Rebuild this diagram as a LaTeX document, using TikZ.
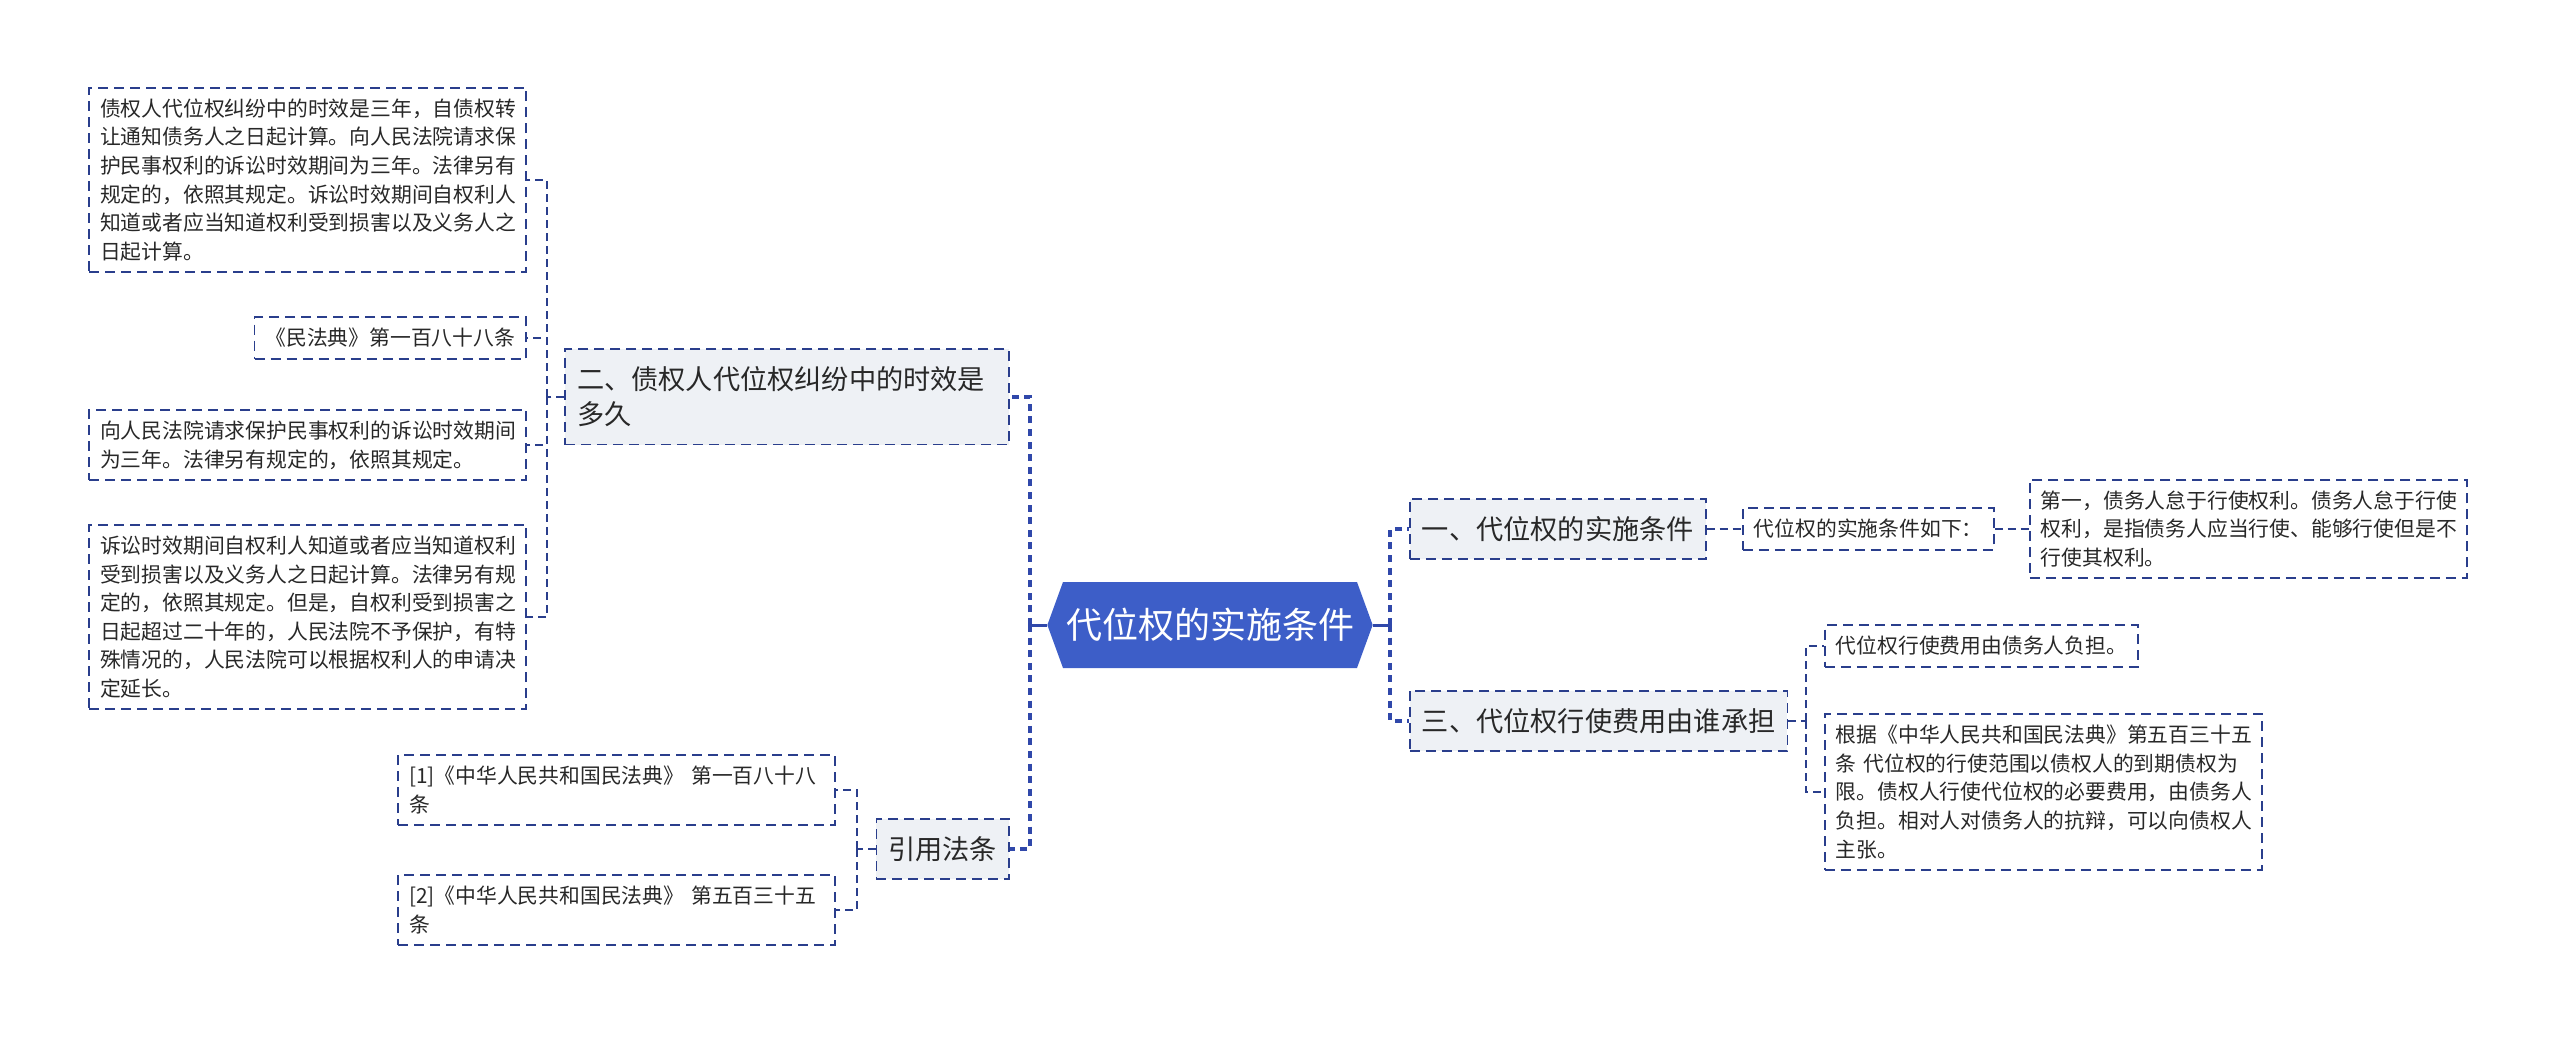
\documentclass[tikz,border=0pt]{standalone}
\usepackage{fontspec}
\setmainfont{Noto Sans CJK SC}
\usepackage{tikz}
\usetikzlibrary{shapes.symbols}
\definecolor{rootblue}{RGB}{61,94,200}
\definecolor{linkblue}{RGB}{42,62,140}
\definecolor{busblue}{RGB}{48,72,170}
\definecolor{topicgray}{RGB}{238,241,245}
\definecolor{textgray}{RGB}{40,40,40}

\begin{document}
\begin{tikzpicture}[x=0.5pt,y=-0.5pt,
    leaf/.style={draw=linkblue,line width=0.85pt,dash pattern=on 5pt off 3pt,fill=white,
      text=textgray,font=\fontsize{10.4pt}{14.3pt}\selectfont,inner xsep=5.5pt,inner ysep=5.5pt,align=left},
    wideleaf/.style={leaf,text width=207.5pt},
    topic/.style={leaf,fill=topicgray,font=\fontsize{13.6pt}{17.5pt}\selectfont,inner xsep=6pt,inner ysep=8.75pt},
    rootbox/.style={signal,signal to=west and east,signal pointer angle=140,fill=rootblue,
      text=white,font=\fontsize{18pt}{22pt}\selectfont,minimum height=43pt,inner xsep=1.5pt},
    link/.style={draw=linkblue,line width=0.85pt,dash pattern=on 4pt off 2.5pt},
    mainlink/.style={draw=busblue,line width=1.6pt,dash pattern=on 3.5pt off 2.8pt},
    rootlink/.style={draw=busblue,line width=1.5pt}]
    \useasboundingbox (0,0) rectangle (2560,1037);

    % Root
    \node[rootbox] (root) at (1210,625) {代位权的实施条件};

    % Left branch: 时效
    \node[topic,anchor=east,text width=210pt] (limit) at (1010,397) {二、债权人代位权纠纷中的时效是\\多久};
    \node[wideleaf,anchor=east] (limitA) at (527,180) {债权人代位权纠纷中的时效是三年，自债权转\\让通知债务人之日起计算。向人民法院请求保\\护民事权利的诉讼时效期间为三年。法律另有\\规定的，依照其规定。诉讼时效期间自权利人\\知道或者应当知道权利受到损害以及义务人之\\日起计算。};
    \node[leaf,anchor=east] (limitB) at (527,338) {《民法典》第一百八十八条};
    \node[wideleaf,anchor=east] (limitC) at (527,445) {向人民法院请求保护民事权利的诉讼时效期间\\为三年。法律另有规定的，依照其规定。};
    \node[wideleaf,anchor=east] (limitD) at (527,617) {诉讼时效期间自权利人知道或者应当知道权利\\受到损害以及义务人之日起计算。法律另有规\\定的，依照其规定。但是，自权利受到损害之\\日起超过二十年的，人民法院不予保护，有特\\殊情况的，人民法院可以根据权利人的申请决\\定延长。};

    % Left branch: 法条
    \node[topic,anchor=east] (law) at (1010,849) {引用法条};
    \node[wideleaf,anchor=east] (lawA) at (836,790) {[1]《中华人民共和国民法典》 第一百八十八\\条};
    \node[wideleaf,anchor=east] (lawB) at (836,910) {[2]《中华人民共和国民法典》 第五百三十五\\条};

    % Right branch: 实施条件
    \node[topic,anchor=west] (cond) at (1409,529) {一、代位权的实施条件};
    \node[leaf,anchor=west] (condA) at (1742,529) {代位权的实施条件如下：};
    \node[wideleaf,anchor=west] (condB) at (2029,529) {第一，债务人怠于行使权利。债务人怠于行使\\权利，是指债务人应当行使、能够行使但是不\\行使其权利。};

    % Right branch: 费用
    \node[topic,anchor=west] (cost) at (1409,721) {三、代位权行使费用由谁承担};
    \node[leaf,anchor=west] (costA) at (1824,646) {代位权行使费用由债务人负担。};
    \node[wideleaf,anchor=west] (costB) at (1824,792) {根据《中华人民共和国民法典》第五百三十五\\条 代位权的行使范围以债权人的到期债权为\\限。债权人行使代位权的必要费用，由债务人\\负担。相对人对债务人的抗辩，可以向债权人\\主张。};

    % Buses
    \coordinate (lbus) at (1030,625);
    \coordinate (rbus) at (1390,625);
    \coordinate (limitbus) at (547,397);
    \coordinate (lawbus) at (857,849);
    \coordinate (costbus) at (1806,721);

    \draw[rootlink] (root.west) -- (lbus);
    \draw[rootlink] (root.east) -- (rbus);
    \foreach \n in {limit,law} \draw[mainlink] (lbus) |- (\n.east);
    \foreach \n in {cond,cost} \draw[mainlink] (rbus) |- (\n.west);

    \draw[link] (limit.west) -- (limitbus);
    \foreach \n in {limitA,limitB,limitC,limitD} \draw[link] (limitbus) |- (\n.east);
    \draw[link] (law.west) -- (lawbus);
    \foreach \n in {lawA,lawB} \draw[link] (lawbus) |- (\n.east);
    \draw[link] (cond.east) -- (condA.west);
    \draw[link] (condA.east) -- (condB.west);
    \draw[link] (cost.east) -- (costbus);
    \foreach \n in {costA,costB} \draw[link] (costbus) |- (\n.west);
\end{tikzpicture}
\end{document}
